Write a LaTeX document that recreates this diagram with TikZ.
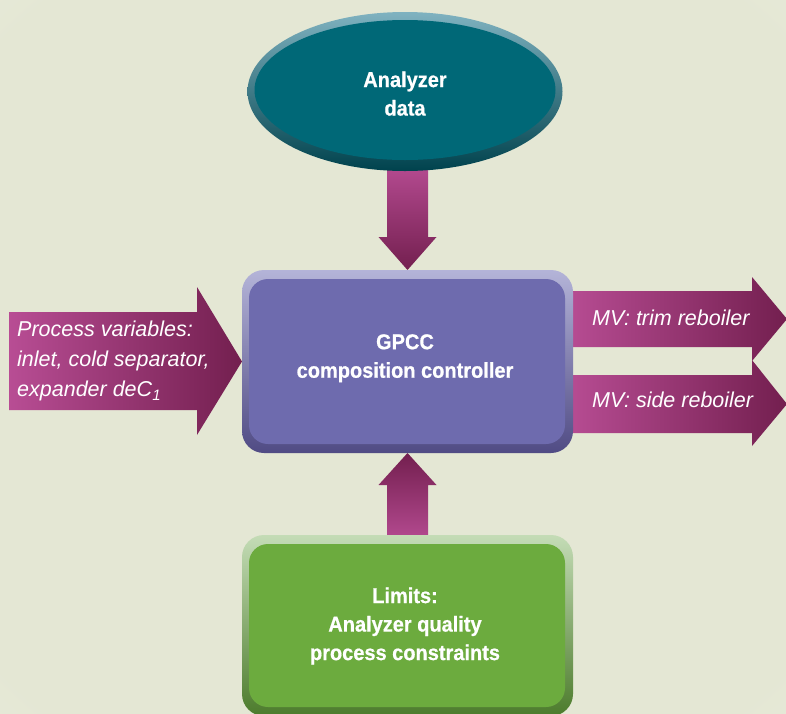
\documentclass[tikz,border=0pt]{standalone}
\usepackage{fontspec}
\setmainfont{Liberation Sans}
\newfontfamily\condsf[FakeStretch=0.93,FakeBold=0.6]{Liberation Sans}
\usetikzlibrary{shapes.geometric}

\definecolor{bgc}{HTML}{E4E7D4}
\definecolor{bgm}{HTML}{ECEEE0}
\definecolor{bgw}{HTML}{F8F9F2}
\definecolor{tealc}{HTML}{006877}
\definecolor{tealhi}{HTML}{7FB2C0}
\definecolor{tealdk}{HTML}{00424D}
\definecolor{purpc}{HTML}{6E6BAE}
\definecolor{purphi}{HTML}{B4B4D8}
\definecolor{purpdk}{HTML}{504B84}
\definecolor{greenc}{HTML}{6CAB3E}
\definecolor{greenhi}{HTML}{C4DCB6}
\definecolor{greendk}{HTML}{4C7B2C}
\definecolor{pinklt}{HTML}{B84D94}
\definecolor{pinkdk}{HTML}{731F4F}

\pgfdeclareradialshading{bgshade}{\pgfpoint{0bp}{0bp}}{color(0bp)=(bgc); color(33bp)=(bgc); color(45bp)=(bgm); color(50bp)=(bgw)}
\pgfdeclarelayer{bg}
\pgfdeclarelayer{flows}
\pgfsetlayers{bg,flows,main}

\tikzset{
  rim/.style={inner sep=0pt, outer sep=0pt},
  core/.style={inner sep=0pt, outer sep=0pt},
  flow/.style={draw=none},
  boldtxt/.style={text=white, align=center, inner sep=0pt,
    font=\condsf\bfseries\fontsize{21.5}{28.5}\selectfont},
  italtxt/.style={text=white, align=left, inner sep=0pt,
    font=\itshape\fontsize{21.5}{30}\selectfont}
}

\begin{document}
\begin{tikzpicture}[x=1pt,y=-1pt]
  \useasboundingbox (0,0) rectangle (786,713);
  \clip (0,0) rectangle (786,713);
  \begin{pgfonlayer}{bg}
    \fill[shading=bgshade] (0,0) rectangle (786,713);
  \end{pgfonlayer}

  % analyzer data
  \node[rim, ellipse, minimum width=315pt, minimum height=159pt,
    top color=tealhi, bottom color=tealdk] (adrim) at (405,91.5) {};
  \node[core, ellipse, fill=tealc, minimum width=301pt, minimum height=140pt] (ad) at (405,90) {};
  \node[boldtxt] (adtxt) at (405,93.6) {Analyzer\\data};

  % controller
  \node[rim, rounded corners=22pt, minimum width=331pt, minimum height=183pt,
    top color=purphi, bottom color=purpdk] (gprim) at (407.5,361.5) {};
  \node[core, rounded corners=19pt, fill=purpc, minimum width=316pt, minimum height=165pt] (gp) at (407,361.5) {};
  \node[boldtxt] (gptxt) at (405,358.2) {GPCC\\composition controller};

  % limits
  \node[rim, rounded corners=22pt, minimum width=331pt, minimum height=181pt,
    top color=greenhi, bottom color=greendk] (limrim) at (407.5,625.5) {};
  \node[core, rounded corners=19pt, fill=greenc, minimum width=316pt, minimum height=163pt] (lim) at (407,625.5) {};
  \node[boldtxt] (limtxt) at (405,626) {Limits:\\Analyzer quality\\process constraints};

  % block arrows
  \begin{pgfonlayer}{flows}
    \path[flow, top color=pinklt, bottom color=pinkdk] (387,160) -- (428,160) -- (428,237)
      -- (436.5,237) -- (gprim.north) -- (378.5,237) -- (387,237) -- cycle;
    \path[flow, top color=pinkdk, bottom color=pinklt] (387,545) -- (428,545) -- (428,485)
      -- (436.5,485) -- (gprim.south) -- (378.5,485) -- (387,485) -- cycle;
    \path[flow, left color=pinklt, right color=pinkdk] (9,312) -- (197,312) -- (197,287)
      -- (gprim.west) -- (197,435) -- (197,410) -- (9,410) -- cycle;
    \path[flow, left color=pinklt, right color=pinkdk] (565,291) -- (752,291) -- (752,277)
      -- (787,319) -- (752,361) -- (752,347) -- (565,347) -- cycle;
    \path[flow, left color=pinklt, right color=pinkdk] (565,375) -- (752,375) -- (752,360)
      -- (787,404) -- (752,446) -- (752,433) -- (565,433) -- cycle;
  \end{pgfonlayer}

  \node[italtxt, anchor=west] (pvtxt) at (17,361.4) {Process variables:\\inlet, cold separator,\\expander deC\textsubscript{1}};
  \node[italtxt, anchor=base west] (mvtrim) at (592,325) {MV: trim reboiler};
  \node[italtxt, anchor=base west] (mvside) at (592,407) {MV: side reboiler};
\end{tikzpicture}
\end{document}
